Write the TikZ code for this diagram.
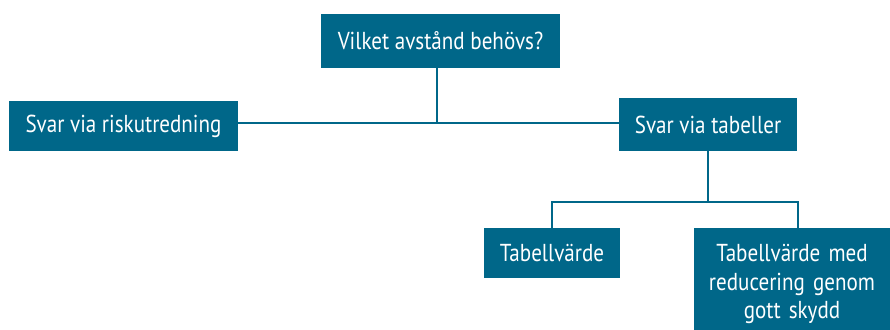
\documentclass[tikz,border=0pt]{standalone}
\usepackage{fontspec}
\setmainfont[FakeStretch=0.86]{PT Sans}
\definecolor{teal}{RGB}{0,103,137}

\tikzset{
  box/.style={fill=teal, text=white, inner sep=0pt, font=\fontsize{24.5}{28.5}\selectfont, align=center},
  link/.style={draw=teal, line width=2pt}
}

\begin{document}
\begin{tikzpicture}[x=1pt,y=-1pt]
\useasboundingbox (0,0) rectangle (890,329);

\node[box, minimum width=239pt, minimum height=54pt] (fraga) at (440.5,41) {Vilket avstånd behövs?};
\node[box, minimum width=229pt, minimum height=50pt] (risk) at (123.5,126) {Svar via riskutredning};
\node[box, minimum width=178pt, minimum height=53pt] (tabeller) at (708,124.5) {Svar via tabeller};
\node[box, minimum width=136pt, minimum height=50pt] (varde) at (552,253) {Tabellvärde};
\node[box, minimum width=196pt, minimum height=112pt, text width=196pt] (reducering) at (792,284) {Tabellvärde med\\reducering genom\\gott skydd};

\coordinate (j1) at (437,123);
\coordinate (j2) at (708,202);

\draw[link] (fraga.south -| j1) -- (j1);
\draw[link] (risk.east |- j1) -- (tabeller.west |- j1);
\draw[link] (tabeller.south) -- (j2);
\draw[link] (varde.north) |- (j2) -| ([xshift=6pt]reducering.north);
\end{tikzpicture}
\end{document}
